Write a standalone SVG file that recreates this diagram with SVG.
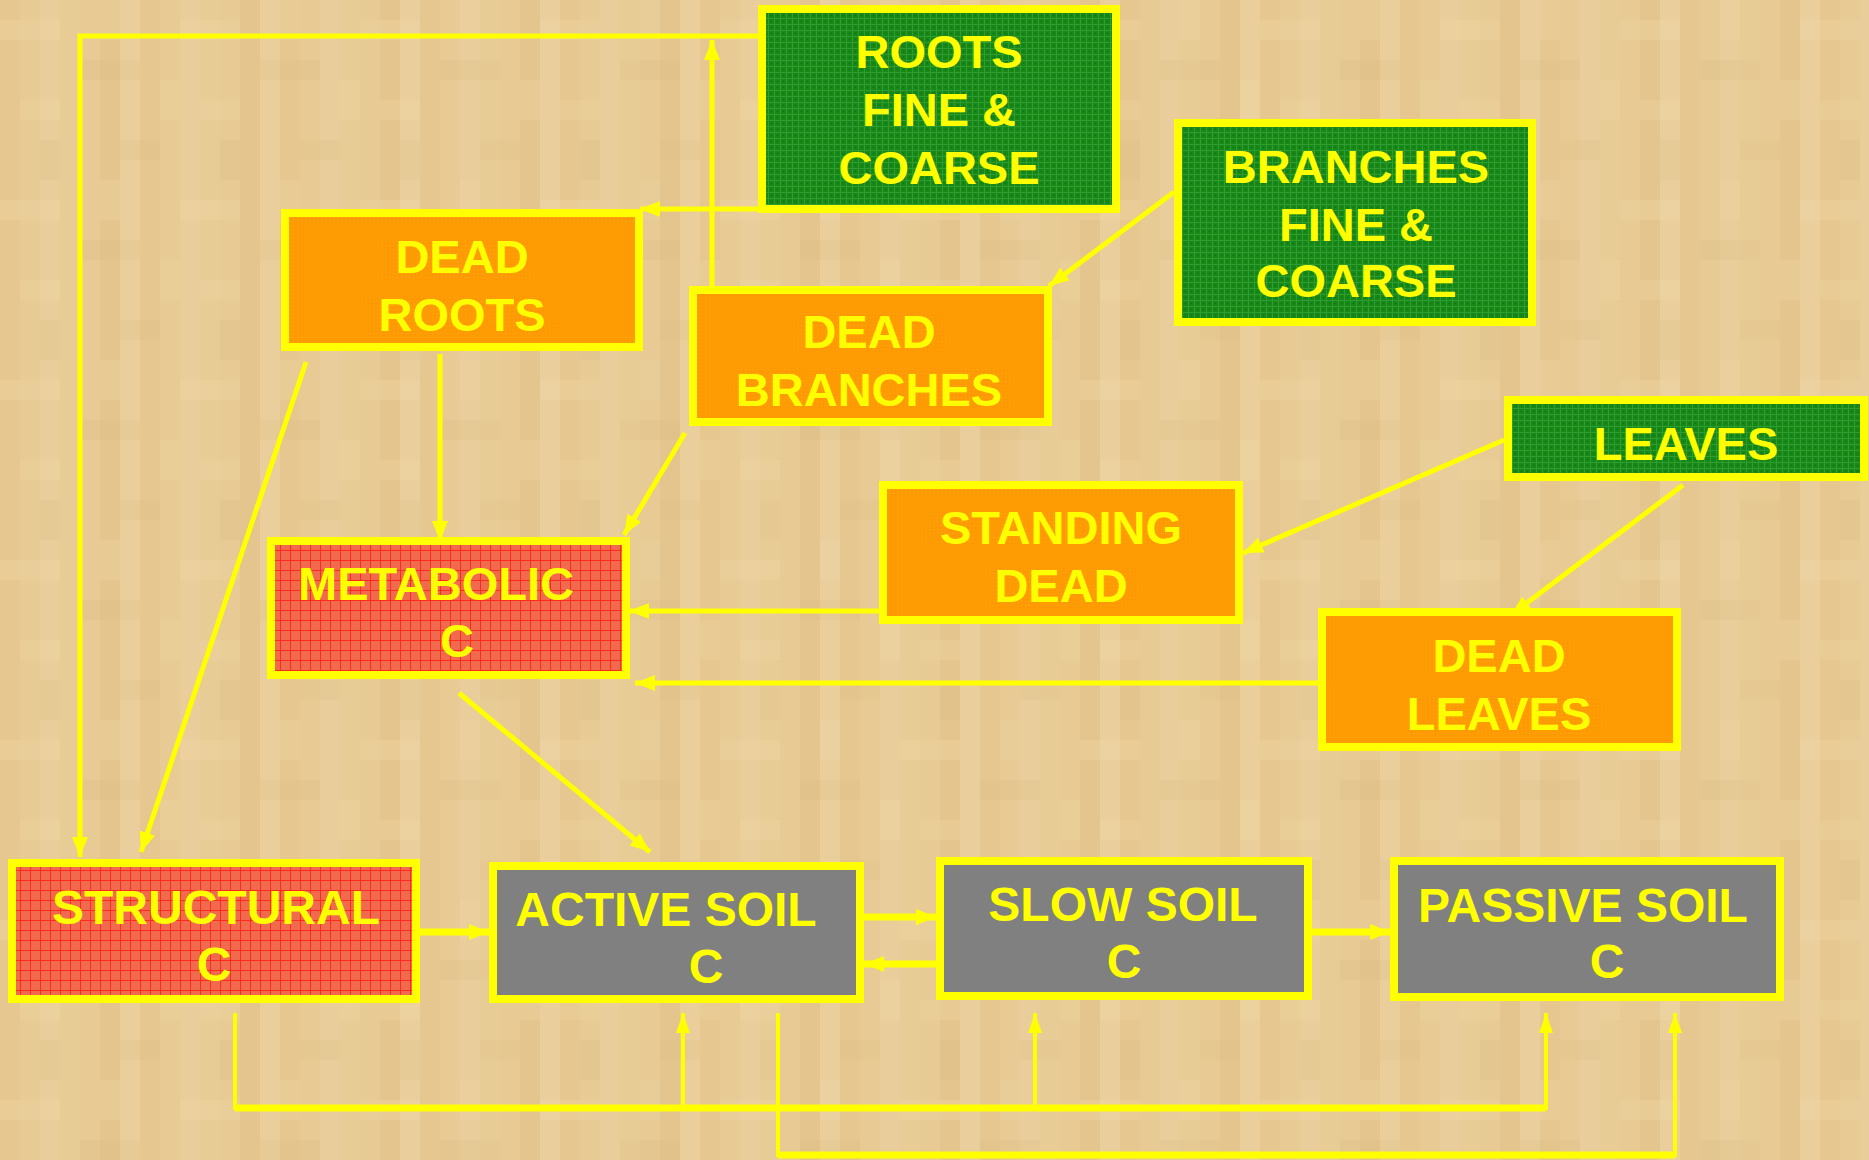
<svg xmlns="http://www.w3.org/2000/svg" width="1869" height="1160" viewBox="0 0 1869 1160">
<style>
.box{stroke:#ffff00;stroke-width:8}
.g{fill:url(#green)}
.o{fill:url(#orange)}
.r{fill:url(#red)}
.s{fill:#808080}
.t{font-family:"Liberation Sans",Arial,sans-serif;font-weight:bold;font-size:47px;fill:#ffff00;text-anchor:middle}
.tb{font-size:48px}
.c{fill:none;stroke:#ffff00;stroke-width:5}
.cw{stroke-width:7}
.ct{stroke-width:4}
</style>
<defs>
<pattern id="bgv" width="140" height="20" patternUnits="userSpaceOnUse">
<rect width="140" height="20" fill="#e7ca94"/>
<rect x="0" width="20" height="20" fill="#e5c78f"/>
<rect x="40" width="20" height="20" fill="#e9ce9b"/>
<rect x="60" width="20" height="20" fill="#e8cc96"/>
<rect x="100" width="20" height="20" fill="#e4c58e"/>
<rect x="120" width="20" height="20" fill="#eacf9c"/>
</pattern>
<pattern id="bgh" width="180" height="180" patternUnits="userSpaceOnUse">
<rect y="20" width="60" height="20" fill="#f3dcaa" opacity="0.25"/>
<rect x="80" y="60" width="60" height="20" fill="#d8b57e" opacity="0.18"/>
<rect x="20" y="100" width="40" height="20" fill="#f3dcaa" opacity="0.22"/>
<rect x="120" y="140" width="40" height="20" fill="#dcb982" opacity="0.2"/>
<rect x="100" y="0" width="20" height="40" fill="#f0d8a6" opacity="0.25"/>
<rect x="40" y="140" width="20" height="40" fill="#d9b880" opacity="0.18"/>
<rect x="160" y="80" width="20" height="40" fill="#f2dba9" opacity="0.22"/>
</pattern>
<pattern id="green" width="6" height="6" patternUnits="userSpaceOnUse">
<rect width="6" height="6" fill="#178717"/>
<path d="M0 0.5H6M0.5 0V6" stroke="#2e9c2e" stroke-width="1"/>
<rect x="3" y="3" width="1" height="1" fill="#0e700e"/>
</pattern>
<pattern id="orange" width="4" height="4" patternUnits="userSpaceOnUse">
<rect width="4" height="4" fill="#ff9a00"/>
<rect x="1" y="1" width="1" height="1" fill="#ffaa28"/>
</pattern>
<pattern id="red" width="10" height="10" patternUnits="userSpaceOnUse">
<rect width="10" height="10" fill="#f26a4e"/>
<path d="M0 0.5H10M0.5 0V10" stroke="#ff2a1e" stroke-width="1"/>
</pattern>
<marker id="ah" viewBox="0 0 20 16" markerWidth="20" markerHeight="16" refX="20" refY="8" orient="auto" markerUnits="userSpaceOnUse">
<path d="M0 0L20 8L0 16z" fill="#ffff00"/>
</marker>
<marker id="au" viewBox="0 0 20 14" markerWidth="20" markerHeight="14" refX="20" refY="7" orient="auto" markerUnits="userSpaceOnUse">
<path d="M0 0L20 7L0 14z" fill="#ffff00"/>
</marker>
</defs>
<rect width="1869" height="1160" fill="url(#bgv)"/>
<rect width="1869" height="1160" fill="url(#bgh)"/>

<g id="connectors">
<path class="c" d="M759 36H80V857" marker-end="url(#ah)"/>
<path class="c" d="M712 286V40" marker-end="url(#ah)"/>
<path class="c" d="M759 209H640" marker-end="url(#ah)"/>
<path class="c" d="M440 354V541" marker-end="url(#ah)"/>
<path class="c" d="M306 362L141 852" marker-end="url(#ah)"/>
<path class="c" d="M685 433L624 535" marker-end="url(#ah)"/>
<path class="c" d="M1174 192L1049 286" marker-end="url(#ah)"/>
<path class="c" d="M1504 440L1243 553" marker-end="url(#ah)"/>
<path class="c" d="M1683 485L1511 615" marker-end="url(#ah)"/>
<path class="c" d="M879 611H629" marker-end="url(#ah)"/>
<path class="c" d="M1318 683H635" marker-end="url(#ah)"/>
<path class="c" d="M459 693L650 852" marker-end="url(#ah)"/>
<path class="c cw" d="M420 932H489" marker-end="url(#ah)"/>
<path class="c cw" d="M864 917H936" marker-end="url(#ah)"/>
<path class="c cw" d="M936 964H864" marker-end="url(#ah)"/>
<path class="c cw" d="M1312 932H1390" marker-end="url(#ah)"/>
<path class="c ct" d="M235 1013V1108H1546V1013" marker-end="url(#au)"/>
<path class="c cw" d="M235 1108H1546"/>
<path class="c ct" d="M683 1108V1013" marker-end="url(#au)"/>
<path class="c ct" d="M1035 1108V1013" marker-end="url(#au)"/>
<path class="c ct" d="M778 1013V1155H1675V1013" marker-end="url(#au)"/>
<path class="c cw" d="M778 1155H1675"/>
</g>

<g id="roots">
<rect class="box g" x="762" y="9" width="354" height="200"/>
<text class="t" x="939" y="68">ROOTS</text>
<text class="t" x="939" y="126">FINE &amp;</text>
<text class="t" x="939" y="184">COARSE</text>
</g>
<g id="branches">
<rect class="box g" x="1178" y="123" width="354" height="199"/>
<text class="t" x="1356" y="183">BRANCHES</text>
<text class="t" x="1356" y="241">FINE &amp;</text>
<text class="t" x="1356" y="297">COARSE</text>
</g>
<g id="leaves">
<rect class="box g" x="1508" y="400" width="356" height="77"/>
<text class="t" x="1686" y="460">LEAVES</text>
</g>
<g id="dead-roots">
<rect class="box o" x="285" y="213" width="354" height="134"/>
<text class="t" x="462" y="273">DEAD</text>
<text class="t" x="462" y="331">ROOTS</text>
</g>
<g id="dead-branches">
<rect class="box o" x="693" y="290" width="355" height="132"/>
<text class="t" x="869" y="348">DEAD</text>
<text class="t" x="869" y="406">BRANCHES</text>
</g>
<g id="standing-dead">
<rect class="box o" x="883" y="485" width="356" height="135"/>
<text class="t" x="1061" y="544">STANDING</text>
<text class="t" x="1061" y="602">DEAD</text>
</g>
<g id="dead-leaves">
<rect class="box o" x="1322" y="612" width="355" height="135"/>
<text class="t" x="1499" y="672">DEAD</text>
<text class="t" x="1499" y="730">LEAVES</text>
</g>
<g id="metabolic">
<rect class="box r" x="271" y="541" width="355" height="134"/>
<text class="t" x="436" y="600">METABOLIC</text>
<text class="t" x="457" y="657">C</text>
</g>
<g id="structural">
<rect class="box r" x="12" y="863" width="404" height="136"/>
<text class="t tb" x="216" y="924">STRUCTURAL</text>
<text class="t tb" x="214" y="981">C</text>
</g>
<g id="active-soil">
<rect class="box s" x="493" y="866" width="367" height="133"/>
<text class="t tb" x="666" y="926">ACTIVE SOIL</text>
<text class="t tb" x="706" y="983">C</text>
</g>
<g id="slow-soil">
<rect class="box s" x="940" y="861" width="368" height="135"/>
<text class="t tb" x="1123" y="921">SLOW SOIL</text>
<text class="t tb" x="1124" y="978">C</text>
</g>
<g id="passive-soil">
<rect class="box s" x="1394" y="861" width="386" height="136"/>
<text class="t tb" x="1583" y="922">PASSIVE SOIL</text>
<text class="t tb" x="1607" y="978">C</text>
</g>
</svg>
